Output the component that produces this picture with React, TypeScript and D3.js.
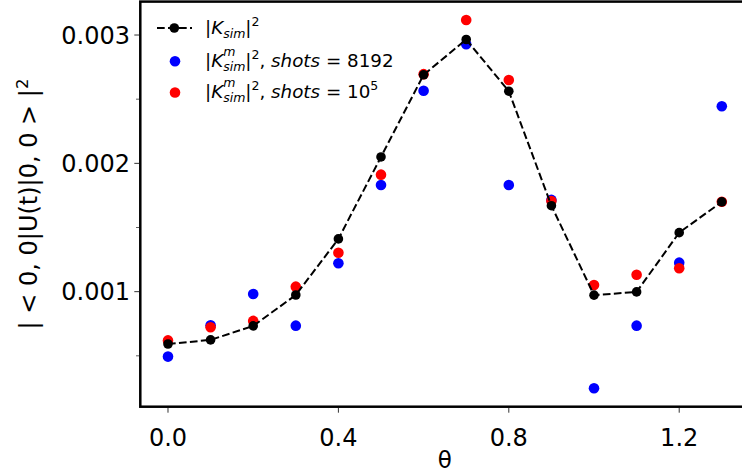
import React from "react";
import * as d3 from "d3";

const theta = [0, 0.1, 0.2, 0.3, 0.4, 0.5, 0.6, 0.7, 0.8, 0.9, 1.0, 1.1, 1.2, 1.3];
const kSim = [0.000592, 0.000624, 0.000733, 0.000974, 0.001411, 0.00205, 0.00269, 0.002965, 0.002562, 0.00167, 0.000973, 0.000998, 0.00146, 0.0017];
const kShots8192 = [0.000494, 0.000738, 0.000982, 0.000735, 0.001221, 0.001831, 0.002566, 0.002928, 0.001831, 0.001715, 0.000247, 0.000735, 0.001226, 0.002445];
const kShots1e5 = [0.00062, 0.000723, 0.000772, 0.001039, 0.001303, 0.001912, 0.002695, 0.003117, 0.002649, 0.001707, 0.001052, 0.001132, 0.001182, 0.001701];
const xTicks = [0.0, 0.4, 0.8, 1.2];
const xTickLabels = ["0.0", "0.4", "0.8", "1.2"];
const yTicks = [0.001, 0.002, 0.003];
const yTickLabels = ["0.001", "0.002", "0.003"];
const yMinorTicks = [0.0005, 0.0015, 0.0025];

const W = 742;
const H = 474;
const L = 140.3, R = 749.5, T = 1.6, B = 406.7;
const FONT = "DejaVu Sans, sans-serif";

export default function App() {
  const xPad = (d3.max(theta)! - d3.min(theta)!) * 0.05;
  const x = d3.scaleLinear().domain([d3.min(theta)! - xPad, d3.max(theta)! + xPad]).range([L, R]);
  const all = [...kShots8192, ...kShots1e5];
  const yMin = d3.min(all)!, yMax = d3.max(all)!;
  const yPad = (yMax - yMin) * 0.05;
  const y = d3.scaleLinear().domain([yMin - yPad, yMax + yPad]).range([B, T]);

  const line = d3.line<number>().x((_, i) => x(theta[i])).y((d) => y(d));

  const lfs = 18.3;
  const sfs = 12.5;
  const lx = 205;
  const rows = [33.5, 66.5, 97.5];
  const tfs = 24;

  const MLabel = ({ yy, tail, sup }: { yy: number; tail: string; sup?: string }) => (
    <text x={lx} y={yy} fontSize={lfs} fill="black">
      |<tspan fontStyle="italic">K</tspan>
      <tspan dy={-10.5} fontSize={sfs} fontStyle="italic">m</tspan>
      <tspan dx={-12.2} dy={15} fontSize={sfs} fontStyle="italic">sim</tspan>
      <tspan dy={-4.5}>|</tspan>
      <tspan dy={-8} fontSize={sfs}>2</tspan>
      <tspan dy={8}>, </tspan>
      <tspan fontStyle="italic">shots</tspan>
      <tspan>{tail}</tspan>
      {sup ? <tspan dy={-8} fontSize={sfs}>{sup}</tspan> : null}
    </text>
  );

  return (
    <svg width={W} height={H} style={{ position: "absolute", left: 0, top: 0 }} fontFamily={FONT}>
      <rect x={0} y={0} width={W} height={H} fill="white" />
      <defs>
        <clipPath id="plot">
          <rect x={L} y={T} width={R - L} height={B - T} />
        </clipPath>
      </defs>
      <g clipPath="url(#plot)">
        {kShots8192.map((v, i) => (
          <circle key={"b" + i} cx={x(theta[i])} cy={y(v)} r={5.3} fill="#0000ff" />
        ))}
        {kShots1e5.map((v, i) => (
          <circle key={"r" + i} cx={x(theta[i])} cy={y(v)} r={5.3} fill="#ff0000" />
        ))}
        <path d={line(kSim)!} fill="none" stroke="black" strokeWidth={2} strokeDasharray="7.7,3.3" />
        {kSim.map((v, i) => (
          <circle key={"k" + i} cx={x(theta[i])} cy={y(v)} r={4.8} fill="black" />
        ))}
      </g>
      {/* spines */}
      <rect x={L} y={T} width={R - L} height={B - T} fill="none" stroke="black" strokeWidth={2.5} />
      {/* x ticks */}
      {xTicks.map((t, i) => (
        <g key={"xt" + i}>
          <line x1={x(t)} x2={x(t)} y1={B + 1.2} y2={B + 6} stroke="#333" strokeWidth={1} />
          <text x={x(t)} y={446} fontSize={tfs} textAnchor="middle" fill="black">{xTickLabels[i]}</text>
        </g>
      ))}
      {/* y ticks */}
      {yTicks.map((t, i) => (
        <g key={"yt" + i}>
          <line x1={L - 6} x2={L - 1.2} y1={y(t)} y2={y(t)} stroke="#333" strokeWidth={1} />
          <text x={130} y={y(t) + 8.6} fontSize={tfs} textAnchor="end" fill="black">{yTickLabels[i]}</text>
        </g>
      ))}
      {yMinorTicks.map((t, i) => (
        <line key={"ym" + i} x1={L - 4.3} x2={L - 1.2} y1={y(t)} y2={y(t)} stroke="#333" strokeWidth={0.8} />
      ))}
      {/* axis labels */}
      <text x={(L + R) / 2} y={468} fontSize={23} textAnchor="middle" fill="black">θ</text>
      <text transform={`translate(37,204) rotate(-90)`} fontSize={tfs} textAnchor="middle" fill="black">
        | &lt; 0, 0|U(t)|0, 0 &gt; |<tspan dy={-9.5} fontSize={16.5}>2</tspan>
      </text>
      {/* legend */}
      <g>
        <line x1={157} x2={192} y1={rows[0] - 5.5} y2={rows[0] - 5.5} stroke="black" strokeWidth={2} strokeDasharray="7.7,3.3" />
        <circle cx={174.3} cy={rows[0] - 5.5} r={4.8} fill="black" />
        <circle cx={175} cy={rows[1] - 5.2} r={5.3} fill="#0000ff" />
        <circle cx={175} cy={rows[2] - 5} r={5.3} fill="#ff0000" />
        <text x={lx} y={rows[0]} fontSize={lfs} fill="black">
          |<tspan fontStyle="italic">K</tspan>
          <tspan dy={4.5} fontSize={sfs} fontStyle="italic">sim</tspan>
          <tspan dy={-4.5}>|</tspan>
          <tspan dy={-8} fontSize={sfs}>2</tspan>
        </text>
        <MLabel yy={rows[1]} tail=" = 8192" />
        <MLabel yy={rows[2]} tail=" = 10" sup="5" />
      </g>
    </svg>
  );
}
